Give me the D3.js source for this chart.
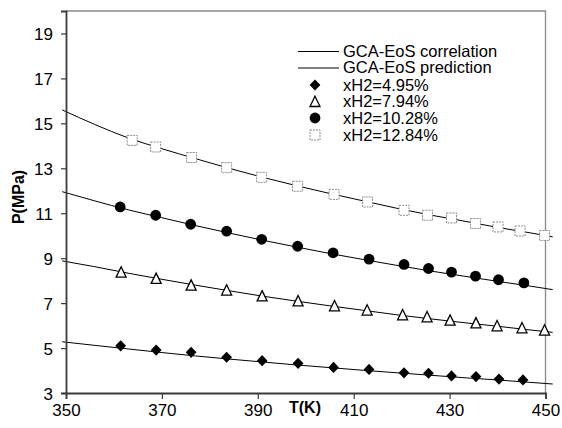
<!DOCTYPE html>
<html>
<head>
<meta charset="utf-8">
<script src="https://cdn.jsdelivr.net/npm/d3@7"></script>
<style>
  html, body { margin: 0; padding: 0; background: #fff; }
  svg { display: block; font-family: "Liberation Sans", Arial, sans-serif; }
</style>
</head>
<body>
<svg id="chart" width="562" height="428"></svg>
<script>
// Tick labels
const xTicks = [350, 370, 390, 410, 430, 450];
const yTicks = [3, 5, 7, 9, 11, 13, 15, 17, 19];

// Experimental bubble-point data, T (K) and P (MPa)
const tH2_495 = [361.4, 368.8, 376.1, 383.5, 390.9, 398.4, 405.8, 413.2, 420.5, 425.6, 430.4, 435.5, 440.3, 445.3];
const pH2_495 = [5.10, 4.91, 4.81, 4.59, 4.44, 4.32, 4.14, 4.05, 3.90, 3.88, 3.76, 3.73, 3.62, 3.58];

const tH2_794 = [361.5, 368.8, 376.1, 383.5, 390.9, 398.4, 406.0, 412.8, 420.2, 425.3, 430.1, 435.5, 439.9, 445.1, 449.8];
const pH2_794 = [8.38, 8.10, 7.80, 7.58, 7.32, 7.10, 6.88, 6.69, 6.48, 6.39, 6.24, 6.12, 5.99, 5.90, 5.80];

const tH2_1028 = [361.3, 368.7, 376.0, 383.5, 390.8, 398.3, 405.7, 413.2, 420.5, 425.6, 430.4, 435.4, 440.2, 445.5];
const pH2_1028 = [11.28, 10.91, 10.51, 10.20, 9.84, 9.53, 9.24, 8.96, 8.72, 8.54, 8.38, 8.20, 8.04, 7.90];

const tH2_1284 = [363.8, 368.7, 376.2, 383.5, 390.8, 398.3, 405.9, 412.9, 420.5, 425.4, 430.4, 435.4, 440.1, 444.7, 449.8];
const pH2_1284 = [14.24, 13.95, 13.48, 13.03, 12.60, 12.20, 11.84, 11.50, 11.13, 10.91, 10.79, 10.54, 10.39, 10.21, 10.01];

// GCA-EoS model curves on a common temperature grid
const tModel = [349.2, 356, 363, 370, 377, 384, 391, 398, 405, 412, 419, 426, 433, 440, 447, 451.5];
const pModel_495 = [5.28, 5.12, 4.96, 4.80, 4.65, 4.51, 4.38, 4.25, 4.13, 4.01, 3.90, 3.79, 3.68, 3.58, 3.47, 3.40];
const pModel_794 = [8.88, 8.62, 8.33, 8.06, 7.80, 7.55, 7.31, 7.09, 6.88, 6.68, 6.48, 6.30, 6.13, 5.97, 5.80, 5.70];
const pModel_1028 = [11.96, 11.55, 11.15, 10.80, 10.45, 10.12, 9.80, 9.50, 9.21, 8.94, 8.68, 8.43, 8.20, 7.97, 7.75, 7.60];
const pModel_1284 = [15.60, 14.95, 14.35, 13.87, 13.43, 13.00, 12.60, 12.23, 11.88, 11.55, 11.22, 10.92, 10.65, 10.37, 10.12, 9.95];

const legendLabels = ["GCA-EoS correlation", "GCA-EoS prediction", "xH2=4.95%", "xH2=7.94%", "xH2=10.28%", "xH2=12.84%"];

const svg = d3.select("#chart");
const plotL = 66, plotR = 545.5, plotT = 11, plotB = 393;

const x = d3.scaleLinear().domain([350, 450]).range([plotL, plotR]);
const y = d3.scaleLinear().domain([3, 20]).range([plotB, plotT]);

// Plot frame (top and right edges)
svg.append("path")
  .attr("d", `M${plotL},${plotT}H${plotR}V${plotB}`)
  .attr("fill", "none").attr("stroke", "#8a8a8a").attr("stroke-width", 1.3);

// Model curves
const line = d3.line().x(d => x(d[0])).y(d => y(d[1])).curve(d3.curveMonotoneX);
[pModel_495, pModel_794, pModel_1028, pModel_1284].forEach(ps => {
  svg.append("path")
    .datum(tModel.map((t, i) => [t, ps[i]]))
    .attr("d", line)
    .attr("fill", "none").attr("stroke", "#000").attr("stroke-width", 1);
});

// Axes
const xAxis = svg.append("g").attr("transform", `translate(0,${plotB})`)
  .call(d3.axisBottom(x).tickValues(xTicks).tickSize(6).tickPadding(5).tickFormat(d3.format("d")));
const yAxis = svg.append("g").attr("transform", `translate(${plotL},0)`)
  .call(d3.axisLeft(y).tickValues(yTicks).tickSize(5).tickPadding(8).tickFormat(d3.format("d")));
[xAxis, yAxis].forEach(g => {
  g.select(".domain").attr("stroke", "#3a3a3a").attr("stroke-width", 1.8);
  g.selectAll(".tick line").attr("stroke", "#3a3a3a").attr("stroke-width", 1.2);
  g.selectAll(".tick text").attr("fill", "#000").style("font-size", "17px")
    .style("font-family", "'Liberation Sans', Arial, sans-serif");
});
yAxis.selectAll(".tick text").attr("dy", "0.36em");

// Axis titles
svg.append("text").attr("x", 305).attr("y", 413).attr("text-anchor", "middle")
  .style("font-size", "16px").style("font-weight", "bold").text("T(K)");
svg.append("text").attr("transform", "translate(24,197) rotate(-90)").attr("text-anchor", "middle")
  .style("font-size", "16px").style("font-weight", "bold").text("P(MPa)");

// Marker shapes
const markers = {
  diamond: g => g.append("path").attr("d", "M0,-5.6L5.4,0L0,5.6L-5.4,0Z").attr("fill", "#000"),
  triangle: g => g.append("path").attr("d", "M0,-5.3L5,5L-5,5Z").attr("fill", "#fff").attr("stroke", "#000").attr("stroke-width", 1.3),
  circle: g => g.append("circle").attr("r", 5.4).attr("fill", "#000"),
  square: g => g.append("rect").attr("x", -5).attr("y", -5).attr("width", 10).attr("height", 10)
    .attr("fill", "#fff").attr("stroke", "#8c8c8c").attr("stroke-width", 1).attr("stroke-dasharray", "2,1")
};

const series = [
  { t: tH2_495, p: pH2_495, m: "diamond" },
  { t: tH2_794, p: pH2_794, m: "triangle" },
  { t: tH2_1028, p: pH2_1028, m: "circle" },
  { t: tH2_1284, p: pH2_1284, m: "square" }
];
series.forEach(s => {
  s.t.forEach((t, i) => {
    const g = svg.append("g").attr("transform", `translate(${x(t)},${y(s.p[i])})`);
    markers[s.m](g);
  });
});

// Legend
const lg = svg.append("g");
const lgY = [51, 67.5, 85, 101.5, 118, 135];
legendLabels.forEach((txt, i) => {
  if (i < 2) {
    lg.append("line").attr("x1", 298).attr("x2", 339).attr("y1", lgY[i] + 0.5).attr("y2", lgY[i] + 0.5)
      .attr("stroke", "#000").attr("stroke-width", 1);
  } else {
    const g = lg.append("g").attr("transform", `translate(315,${lgY[i]})`);
    markers[series[i - 2].m](g);
  }
  lg.append("text").attr("x", 343).attr("y", lgY[i]).attr("dy", "0.36em")
    .style("font-size", "16.5px").text(txt);
});
</script>
</body>
</html>
